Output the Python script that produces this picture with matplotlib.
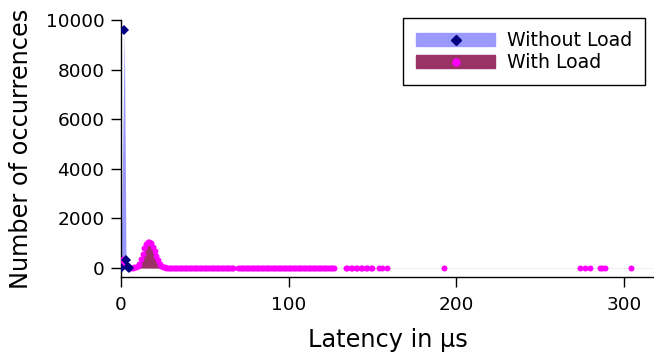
import matplotlib
matplotlib.use('Agg')
from matplotlib import pyplot as plt
from matplotlib.patches import Patch
from matplotlib.lines import Line2D

# latency histogram without load (us, count)
noload_x = [0, 2, 3, 4, 5]
noload_y = [20, 9600, 340, 30, 5]

# latency histogram with load: main body
load_x = [0, 1, 2, 3, 4, 5, 6, 7, 8, 9, 10, 11, 12, 13, 14, 15, 16, 17, 18, 19,
          20, 21, 22, 23, 24, 25, 26, 27, 28, 29, 30]
load_y = [150, 350, 200, 80, 40, 25, 20, 20, 25, 40, 80, 180, 350, 560, 800, 960,
          1040, 1060, 1000, 860, 680, 500, 320, 180, 90, 45, 25, 15, 10, 8, 6]

# long tail, all tiny counts
tail_x = [31, 32, 33, 34, 35, 36, 37, 38, 39, 40, 41, 42, 43, 44, 45, 46, 47, 48,
          49, 50, 51, 52, 53, 54, 55, 56, 57, 58, 59, 60, 61, 62, 63, 64, 65, 66, 67,
          70, 71, 72, 73, 74, 75, 76, 77, 78, 79, 80, 81, 82, 83, 84, 85, 86, 87, 88,
          89, 90, 91, 92, 93, 94, 95, 96, 97, 98, 99, 100, 101, 102, 103, 104, 105,
          106, 107, 108, 109, 110, 111, 112, 113, 114, 115, 116, 117, 118, 119, 120,
          121, 122, 123, 124, 125, 126, 127, 134, 135, 137, 138, 140, 141, 143, 144,
          146, 147, 149, 150, 154, 156, 159, 193, 274, 277, 280, 286, 287, 289, 304]
tail_y = [5, 5, 4, 4, 4, 3, 3, 3, 3, 3, 2, 2, 2, 2, 2, 2, 2, 2,
          2, 2, 2, 2, 1, 1, 1, 1, 1, 1, 1, 1, 1, 1, 1, 1, 1, 1, 1,
          1, 1, 1, 1, 1, 1, 1, 1, 1, 1, 1, 1, 1, 1, 1, 1, 1, 1, 1,
          1, 1, 1, 1, 1, 1, 1, 1, 1, 1, 1, 1, 1, 1, 1, 1, 1,
          1, 1, 1, 1, 1, 1, 1, 1, 1, 1, 1, 1, 1, 1, 1,
          1, 1, 1, 1, 1, 1, 1, 1, 1, 1, 1, 1, 1, 1, 1,
          1, 1, 1, 1, 1, 1, 1, 1, 1, 1, 1, 1, 1, 1, 1]

all_x = load_x + tail_x
all_y = load_y + tail_y

fill_blue = '#9999ff'
fill_red = '#993366'
dot_blue = '#000080'
dot_pink = '#ff00ff'

fig = plt.figure(figsize=(6.54, 3.52), dpi=100)
ax = fig.add_axes([0.185, 0.213, 0.815, 0.730])

ax.fill_between(noload_x, noload_y, color=fill_blue, lw=0, zorder=1)
ax.fill_between(all_x, all_y, color=fill_red, lw=0, zorder=2)
ax.axhline(0, color='#eeeeee', lw=0.6, zorder=0.5)
ax.plot(all_x, all_y, 'o', color=dot_pink, ms=4.3, mew=0, zorder=3)
ax.plot(noload_x, noload_y, 'D', color=dot_blue, ms=5.2, mew=0, zorder=4)

ax.set_xlim(0, 318)
ax.set_ylim(-360, 10000)
ax.set_xticks([0, 100, 200, 300])
ax.set_yticks([0, 2000, 4000, 6000, 8000, 10000])
ax.spines['top'].set_visible(False)
ax.spines['right'].set_visible(False)
ax.spines['left'].set_linewidth(1.0)
ax.spines['bottom'].set_linewidth(1.0)
ax.tick_params(direction='out', length=7.5, width=1.0, labelsize=13.3)
ax.tick_params(axis='x', pad=6)
ax.tick_params(axis='y', pad=4.5)

ax.set_xlabel('Latency in µs', fontsize=17.3, labelpad=10)
ax.set_ylabel('Number of occurrences', fontsize=17.3, labelpad=9)

handles = [
    (Patch(color=fill_blue), Line2D([], [], marker='D', color=dot_blue, ls='none', ms=5)),
    (Patch(color=fill_red), Line2D([], [], marker='o', color=dot_pink, ls='none', ms=5)),
]
leg = fig.legend(handles, ['Without Load', 'With Load'], loc='upper right',
                 bbox_to_anchor=(645 / 654, 1 - 18 / 352), borderaxespad=0,
                 fontsize=13.6, fancybox=False, framealpha=1, edgecolor='black',
                 handlelength=4.2, handleheight=0.65, labelspacing=0.15,
                 borderpad=0.7, handletextpad=0.6)
leg.get_frame().set_linewidth(1.0)

fig.savefig('out.png', dpi=100)
